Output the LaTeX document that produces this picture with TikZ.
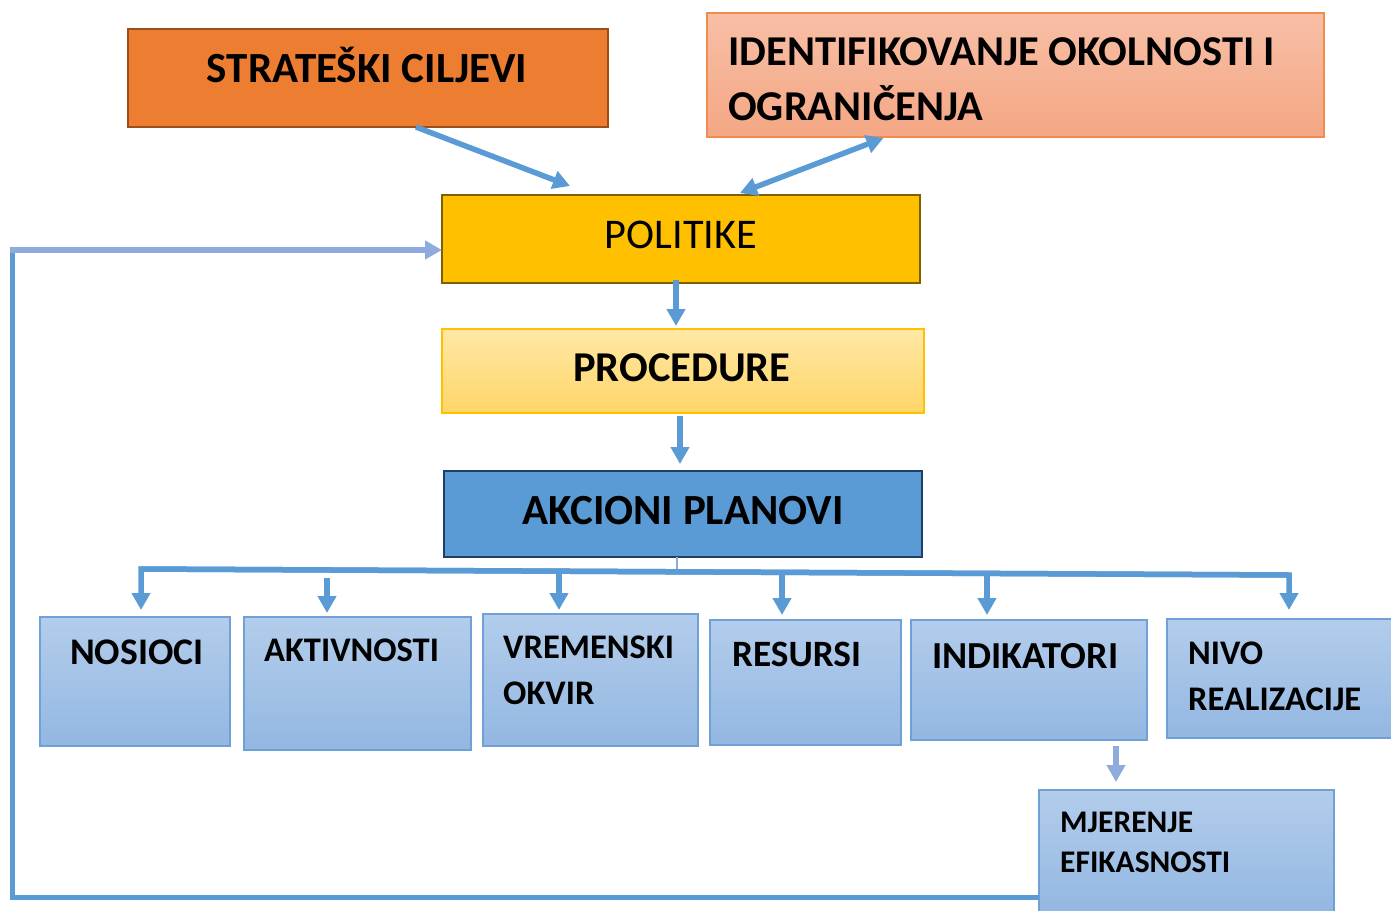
\documentclass[tikz,border=0pt]{standalone}
\usepackage{fontspec}
\setmainfont{Carlito}
\usetikzlibrary{arrows.meta,calc}
\definecolor{orangebox}{HTML}{ED7D31}
\definecolor{orangeedge}{HTML}{9C4F1A}
\definecolor{salmontop}{HTML}{F8BFA6}
\definecolor{salmonbot}{HTML}{F4A784}
\definecolor{salmonedge}{HTML}{F08C4E}
\definecolor{goldbox}{HTML}{FFC000}
\definecolor{goldedge}{HTML}{7F6000}
\definecolor{paletop}{HTML}{FFE8A6}
\definecolor{palebot}{HTML}{FFD567}
\definecolor{bluebox}{HTML}{5B9BD5}
\definecolor{blueedge}{HTML}{1F3F66}
\definecolor{lbtop}{HTML}{B3CDEB}
\definecolor{lbbot}{HTML}{93B7E2}
\definecolor{lbedge}{HTML}{6FA0D8}
\definecolor{arrowblue}{HTML}{5B9BD5}
\definecolor{arrowlight}{HTML}{8FAADC}
\tikzset{
  boxbase/.style={rectangle, inner sep=0pt, outer sep=0pt, anchor=north west},
  lowbox/.style={boxbase, draw=lbedge, line width=1.5pt, top color=lbtop, bottom color=lbbot},
  bigtext/.style={inner sep=0pt, font=\fontsize{43}{55}\selectfont\bfseries},
  lowtext/.style={inner sep=0pt, anchor=base west, align=left},
  tipshape/.style={-{Triangle[width=18pt,length=17pt]}},
  conn/.style={draw=arrowblue, line width=5.5pt, line join=miter, tipshape},
  connlight/.style={draw=arrowlight, line width=5.5pt, line join=miter, tipshape},
}
\begin{document}
\begin{tikzpicture}[x=1pt,y=-1pt]
\useasboundingbox (0,0) rectangle (1391,910);
\clip (0,0) rectangle (1391,910);
% top boxes
\node[boxbase, draw=orangeedge, line width=2.5pt, fill=orangebox, minimum width=480pt, minimum height=98pt] (strat) at (128,29) {};
\node[boxbase, draw=salmonedge, line width=1.5pt, top color=salmontop, bottom color=salmonbot, minimum width=617pt, minimum height=124pt] (ident) at (707,13) {};
\node[boxbase, draw=goldedge, line width=2.5pt, fill=goldbox, minimum width=478pt, minimum height=88pt] (pol) at (442,195) {};
\node[boxbase, draw=goldbox, line width=1.5pt, top color=paletop, bottom color=palebot, minimum width=482pt, minimum height=84pt] (proc) at (442,329) {};
\node[boxbase, draw=blueedge, line width=2.5pt, fill=bluebox, minimum width=478pt, minimum height=86pt] (akc) at (444,471) {};
% lower boxes
\node[lowbox, minimum width=190pt, minimum height=129pt] (nos) at (40,617) {};
\node[lowbox, minimum width=227pt, minimum height=133pt] (akt) at (244,617) {};
\node[lowbox, minimum width=215pt, minimum height=132pt] (vrem) at (483,614) {};
\node[lowbox, minimum width=191pt, minimum height=125pt] (res) at (710,620) {};
\node[lowbox, minimum width=236pt, minimum height=120pt] (ind) at (911,620) {};
\node[lowbox, minimum width=230pt, minimum height=119pt] (nivo) at (1167,619) {};
\node[lowbox, minimum width=295pt, minimum height=124pt] (mjer) at (1039,790) {};
% texts
\node[bigtext, anchor=base] (tstrat) at (367,82) {STRATEŠKI CILJEVI};
\node[bigtext, font=\fontsize{42.5}{55}\selectfont\bfseries, anchor=base west, align=left] (tident) at (728,120) {IDENTIFIKOVANJE OKOLNOSTI I\\OGRANIČENJA};
\node[inner sep=0pt, anchor=base, font=\fontsize{42.3}{50}\selectfont] (tpol) at (681,248) {POLITIKE};
\node[bigtext, font=\fontsize{42.5}{55}\selectfont\bfseries, anchor=base] (tproc) at (682,381) {PROCEDURE};
\node[bigtext, anchor=base] (takc) at (683,524) {AKCIONI PLANOVI};
\node[lowtext, font=\fontsize{37.6}{46}\selectfont\bfseries] (tnos) at (70,664) {NOSIOCI};
\node[lowtext, font=\fontsize{34.5}{46}\selectfont\bfseries] (takt) at (264,661) {AKTIVNOSTI};
\node[lowtext, font=\fontsize{34.5}{46}\selectfont\bfseries] (tvrem) at (503,704) {VREMENSKI\\OKVIR};
\node[lowtext, font=\fontsize{37.2}{46}\selectfont\bfseries] (tres) at (732,666) {RESURSI};
\node[lowtext, font=\fontsize{38.2}{46}\selectfont\bfseries] (tind) at (932,668) {INDIKATORI};
\node[lowtext, font=\fontsize{34.5}{46}\selectfont\bfseries] (tnivo) at (1188,710) {NIVO\\REALIZACIJE};
\node[lowtext, font=\fontsize{31.5}{40}\selectfont\bfseries] (tmjer) at (1060,872) {MJERENJE\\EFIKASNOSTI};
% connectors between upper boxes
\draw[conn] ([xshift=48pt]strat.south) -- ([xshift=-111pt,yshift=9pt]pol.north);
\draw[conn, {Triangle[width=18pt,length=17pt]}-{Triangle[width=18pt,length=17pt]}] ([xshift=59pt,yshift=2pt]pol.north) -- ([xshift=-132pt,yshift=-1pt]ident.south);
\draw[conn] ([xshift=-5pt,yshift=3pt]pol.south) -- ([xshift=-7pt,yshift=3pt]proc.north);
\draw[conn] ([xshift=-3pt,yshift=-3pt]proc.south) -- ([xshift=-3pt,yshift=7pt]akc.north);
% bus to the lower boxes
\coordinate (busL) at (141,569);
\coordinate (busR) at (1289,575);
\draw[draw=arrowlight, line width=1.5pt] ([xshift=-6pt]akc.south) -- ([xshift=-6pt,yshift=-15pt]akc.south);
\draw[conn] (busR) -- (busL) -- ([yshift=7pt]nos.north -| busL);
\draw[conn] (busL) -- (busR) -- ([yshift=9pt]nivo.north -| busR);
\draw[conn] (327,578) -- ([xshift=-30.5pt,yshift=4pt]akt.north);
\draw[conn] (559,573) -- ([xshift=-31.5pt,yshift=4pt]vrem.north);
\draw[conn] (782,573) -- ([xshift=-23.5pt,yshift=5pt]res.north);
\draw[conn] (987,574) -- ([xshift=-42pt,yshift=5pt]ind.north);
\draw[connlight] ([xshift=87pt,yshift=-6pt]ind.south) -- ([xshift=-70.5pt,yshift=8pt]mjer.north);
% feedback loop
\coordinate (loopBL) at (12,897);
\coordinate (loopTL) at (12,250);
\draw[draw=arrowblue, line width=5pt, line join=miter] (mjer.west |- loopBL) -- (loopBL) -- (loopTL);
\draw[connlight] ([xshift=-2.5pt]loopTL) -- (pol.west |- loopTL);
\end{tikzpicture}
\end{document}
